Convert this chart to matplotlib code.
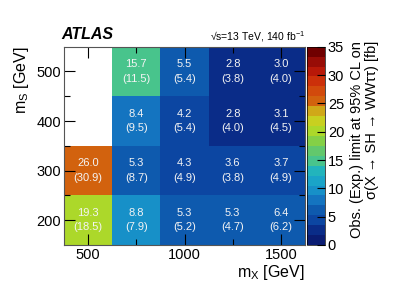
import numpy as np
import matplotlib
matplotlib.use("Agg")
import matplotlib.pyplot as plt
from matplotlib.colors import ListedColormap, BoundaryNorm

plt.rcParams['font.family'] = ['Liberation Sans', 'DejaVu Sans']
plt.rcParams['mathtext.fontset'] = 'custom'
plt.rcParams['mathtext.rm'] = 'Liberation Sans'
plt.rcParams['mathtext.it'] = 'Liberation Sans:italic'

mx = [500, 750, 1000, 1250, 1500]
ms = [200, 300, 400, 500]
# observed limits [row = mS, col = mX]; nan = not probed
obs = [
    [19.3, 8.8, 5.3, 5.3, 6.4],
    [26.0, 5.3, 4.3, 3.6, 3.7],
    [np.nan, 8.4, 4.2, 2.8, 3.1],
    [np.nan, 15.7, 5.5, 2.8, 3.0],
]
exp = [
    [18.5, 7.9, 5.2, 4.7, 6.2],
    [30.9, 8.7, 4.9, 3.8, 4.9],
    [np.nan, 9.5, 5.4, 4.0, 4.5],
    [np.nan, 11.5, 5.4, 3.8, 4.0],
]
cbar_ticks = [0, 5, 10, 15, 20, 25, 30, 35]

palette = ['#0a1c72', '#0a2c88', '#0c46a2', '#0e5aae', '#1474c0', '#1790c8',
           '#1aa4c8', '#22b4bc', '#48c48c', '#62c86c', '#84d046', '#acd82a',
           '#c8d020', '#d0a818', '#d2620e', '#d24a0c', '#cc300a', '#b81808',
           '#980c06', '#700000']
cmap = ListedColormap(palette)
cmap.set_bad('white')
norm = BoundaryNorm(np.linspace(0, 35, 21), cmap.N)

fig = plt.figure(figsize=(4.07, 2.92), dpi=100)
ax = fig.add_axes([64/407, 1-245/292, 241/407, 198.3/292])
cax = fig.add_axes([307/407, 1-245/292, 18/407, 198.3/292])

xe = np.array(mx + [mx[-1] + 250]) - 125
ye = np.array(ms + [ms[-1] + 100]) - 50
data = np.ma.masked_invalid(np.array(obs))
mesh = ax.pcolormesh(xe, ye, data, cmap=cmap, norm=norm)

for i, s in enumerate(ms):
    for j, x in enumerate(mx):
        o = obs[i][j]
        if np.isnan(o):
            continue
        ax.text(x, s, f"{o:.1f}\n({exp[i][j]:.1f})", ha='center', va='center',
                color='#f4f4f4', fontsize=8, linespacing=1.55)

ax.set_xlim(375, 1625)
ax.set_ylim(150, 550)
ax.set_xticks([500, 1000, 1500])
ax.set_xticks([750, 1250], minor=True)
ax.set_yticks([200, 300, 400, 500])
ax.set_yticks([250, 350, 450], minor=True)
ax.tick_params(which='both', direction='in', top=True, right=True, labelsize=10.5, pad=2)
ax.tick_params(which='major', length=8, width=0.8)
ax.tick_params(which='minor', length=4, width=0.8)
for sp in ax.spines.values():
    sp.set_linewidth(0.8)
    sp.set_color('#555555')

ax.set_xlabel(r'm$_{\mathrm{X}}$ [GeV]', fontsize=11.5, ha='right', x=1.0, labelpad=1)
ax.set_ylabel(r'm$_{\mathrm{S}}$ [GeV]', fontsize=11.5, ha='right', y=1.0, labelpad=4)

ax.text(-0.01, 1.025, 'ATLAS', transform=ax.transAxes, fontsize=11.5,
        fontweight='bold', fontstyle='italic', ha='left', va='bottom')
ax.text(1.0, 1.015, '\u221as=13 TeV, 140 fb$^{-1}$', transform=ax.transAxes,
        fontsize=7.5, ha='right', va='bottom')

cb = fig.colorbar(mesh, cax=cax, ticks=cbar_ticks)
cb.outline.set_linewidth(0.5)
cax.tick_params(labelsize=10.5, direction='in', length=6, width=0.8, pad=2)
cax.set_yticks(np.arange(0, 35.1, 1.75), minor=True)
cax.tick_params(which='minor', length=0)
cb.set_label('Obs. (Exp.) limit at 95% CL on\n\u03c3(X \u2192 SH \u2192 WW\u03c4\u03c4) [fb]',
             fontsize=10.5, ha='right', y=1.03, labelpad=4, linespacing=1.1)

fig.savefig('out.png', dpi=100)
